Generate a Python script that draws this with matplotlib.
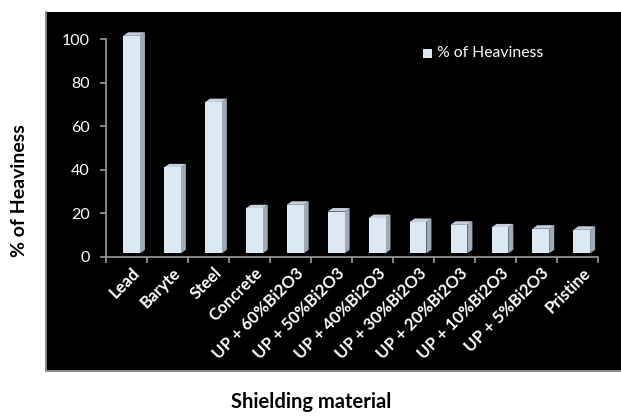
import matplotlib
matplotlib.use("Agg")
import matplotlib.pyplot as plt
from matplotlib.patches import Rectangle, Polygon
from matplotlib.lines import Line2D
import numpy as np

plt.rcParams['font.family'] = ['Lato', 'DejaVu Sans']

# Data
materials = ["Lead", "Baryte", "Steel", "Concrete", "UP + 60%Bi2O3", "UP + 50%Bi2O3",
             "UP + 40%Bi2O3", "UP + 30%Bi2O3", "UP + 20%Bi2O3", "UP + 10%Bi2O3",
             "UP + 5%Bi2O3", "Pristine"]
heaviness = [100, 39.5, 69.5, 20.7, 22.3, 19.2, 16.2, 14.4, 13.1, 11.9, 11.3, 10.8]
y_ticks = [0, 20, 40, 60, 80, 100]
series_name = "% of Heaviness"

W, H = 621, 416
fig = plt.figure(figsize=(W / 100, H / 100), dpi=100)
fig.patch.set_facecolor("white")

# black plot panel behind the axes, grey rule on its left and bottom
px0, py0, px1, py1 = 46, 12, 621, 371
fig.patches.append(Rectangle((px0 / W, (H - py1) / H), (px1 - px0) / W, (py1 - py0) / H,
                             transform=fig.transFigure, facecolor="black",
                             edgecolor="none", zorder=-5))
fig.lines.append(Line2D([px0 / W, px0 / W, px1 / W], [(H - py0) / H, (H - py1) / H, (H - py1) / H],
                        transform=fig.transFigure, color="#8a8a8a", linewidth=1.4, zorder=-4))

ax_l, ax_r = 106.4, 597.5
ax_b, ax_t = 256.7, 39.2
ax = fig.add_axes([ax_l / W, (H - ax_b) / H, (ax_r - ax_l) / W, (ax_b - ax_t) / H])
ax.set_zorder(2)
ax.set_facecolor("none")
n = len(materials)
ax.set_xlim(0, n)
ax.set_ylim(0, 100)

# pixel -> data conversions for the pseudo-3D depth
px_x = (ax_r - ax_l) / n
px_y = (ax_b - ax_t) / 100.0
depth_dx = 5.0 / px_x
depth_dy = 3.5 / px_y
floor_dy = 3.4 / px_y

front_c = "#dde8f5"
side_c = "#9fabb9"
top_c = "#c6d0dc"

bar_left, bar_w = 0.41, 0.41
for i, v in enumerate(heaviness):
    x0 = i + bar_left
    x1 = x0 + bar_w
    y0 = floor_dy
    y1 = v + floor_dy
    ax.add_patch(Polygon([(x1, y0), (x1 + depth_dx, y0 + depth_dy),
                          (x1 + depth_dx, y1 + depth_dy), (x1, y1)],
                         closed=True, facecolor=side_c, edgecolor="none",
                         clip_on=False, zorder=3))
    ax.add_patch(Polygon([(x0, y1), (x1, y1), (x1 + depth_dx, y1 + depth_dy),
                          (x0 + depth_dx, y1 + depth_dy)],
                         closed=True, facecolor=top_c, edgecolor="none",
                         clip_on=False, zorder=3))
    ax.add_patch(Rectangle((x0, y0), bar_w, v, facecolor=front_c,
                           edgecolor="none", clip_on=False, zorder=4))

# axes styling
for s in ["top", "right"]:
    ax.spines[s].set_visible(False)
for s in ["left", "bottom"]:
    ax.spines[s].set_color("#9a9a9a")
    ax.spines[s].set_linewidth(1.2)

ax.set_yticks(y_ticks)
ax.set_yticklabels([str(t) for t in y_ticks], color="white", fontsize=11.5)
ax.tick_params(axis="y", direction="out", length=4, width=1.2, color="#9a9a9a", pad=8)

ax.set_xticks(np.arange(0, n + 1))
ax.set_xticklabels([])
ax.tick_params(axis="x", which="major", direction="out", length=4, width=1.2, color="#9a9a9a")
ax.set_xticks(np.arange(n) + 0.62, minor=True)
ax.set_xticklabels(materials, minor=True, color="white", fontsize=12,
                   fontweight="bold", rotation=45, ha="right",
                   rotation_mode="anchor")
ax.tick_params(axis="x", which="minor", length=0, pad=6)

# legend
fig.patches.append(Rectangle((423 / W, (H - 58) / H), 9 / W, 9 / H,
                             transform=fig.transFigure, facecolor=front_c,
                             edgecolor="none"))
fig.text(437 / W, (H - 53) / H, series_name, color="white", fontsize=11.3,
         va="center", ha="left")

# axis titles
fig.text(20 / W, (H - 191) / H, "% of Heaviness", rotation=90, fontsize=14,
         fontweight="bold", color="black", ha="center", va="center")
fig.text(311 / W, (H - 402) / H, "Shielding material", fontsize=14.5,
         fontweight="bold", color="black", ha="center", va="center")

fig.savefig("out.png", dpi=100, facecolor=fig.get_facecolor())
